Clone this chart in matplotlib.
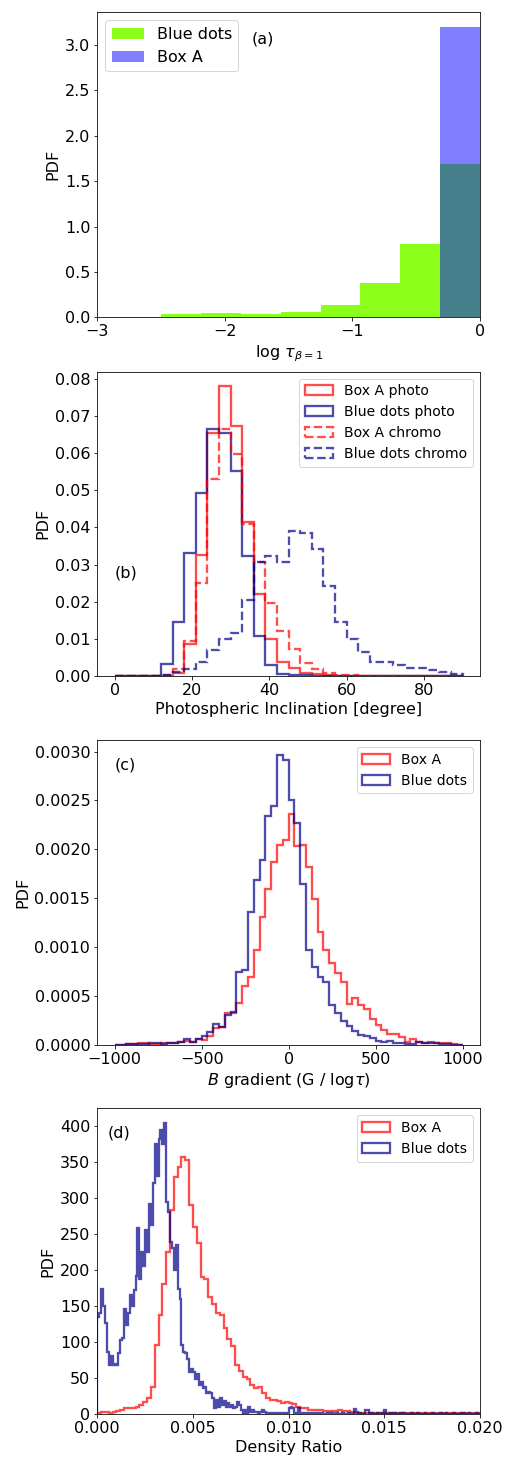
import numpy as np
import matplotlib
matplotlib.use("Agg")
import matplotlib.pyplot as plt
from matplotlib.ticker import MultipleLocator

plt.rcParams["font.size"] = 16

# ---------------- panel (a): log tau_{beta=1} ----------------
a_edges = np.linspace(-2.5, 0.0, 9)
a_bluedots = [0.037, 0.048, 0.037, 0.059, 0.14, 0.375, 0.804, 1.686]
a_boxA = [0, 0, 0, 0, 0, 0, 0, 3.2]

# ---------------- panel (b): photospheric inclination ----------------
b_edges = np.arange(0, 91, 3)
b_boxA_photo = [0, 0, 0, 0, 0, 0.0007, 0.0086, 0.0327, 0.0655, 0.078,
                0.0672, 0.0415, 0.0222, 0.0099, 0.0039, 0.0021, 0.0009, 0.0005, 0.0003, 0.0001,
                0.0001, 0.0001, 0, 0, 0, 0, 0, 0, 0, 0]
b_bluedots_photo = [0, 0, 0, 0, 0.0032, 0.0146, 0.0332, 0.0493, 0.0664, 0.0653,
                    0.0551, 0.0323, 0.0108, 0.0031, 0.0005, 0.0004, 0.0002, 0.0001, 0.0001, 0,
                    0, 0, 0, 0, 0, 0, 0, 0, 0, 0]
b_boxA_chromo = [0, 0, 0, 0, 0.0002, 0.0019, 0.0094, 0.0251, 0.0531, 0.0664,
                 0.0597, 0.041, 0.0307, 0.0197, 0.0122, 0.0072, 0.0036, 0.0018, 0.0007, 0.0004,
                 0.0002, 0.0001, 0.0001, 0, 0, 0, 0, 0, 0, 0]
b_bluedots_chromo = [0, 0, 0, 0, 0.0003, 0.001, 0.0018, 0.0039, 0.0071, 0.0099,
                     0.0115, 0.0204, 0.0306, 0.0323, 0.0307, 0.039, 0.0384, 0.0341, 0.0241, 0.0146,
                     0.0099, 0.0065, 0.0037, 0.0037, 0.0029, 0.0022, 0.0022, 0.0016, 0.001, 0.0005]

# ---------------- panel (c): B gradient (values in 1e-4) ----------------
c_edges = np.linspace(-1000, 1000, 61)
c_boxA = [0, 0.03, 0.1, 0.1, 0.17, 0.17, 0.1, 0.1, 0.17, 0.24,
          0.17, 0.34, 0.44, 0.34, 0.58, 0.51, 0.92, 1.7, 1.87, 3.24,
          3.3, 4.33, 6.07, 7.0, 9.7, 13.05, 15.95, 18.75, 20.45, 21.0,
          23.6, 20.35, 20.4, 18.2, 14.9, 11.6, 9.7, 8.35, 7.4, 6.45,
          4.23, 4.8, 4.1, 3.68, 2.65, 2.07, 1.5, 1.1, 1.1, 0.8,
          0.35, 0.6, 0.27, 0.2, 0.35, 0.24, 0.17, 0.24, 0.07, 0.03]
c_bluedots = [0, 0, 0.07, 0.1, 0.1, 0.07, 0.24, 0.17, 0.1, 0.17,
              0.24, 0.34, 0.58, 0.34, 0.6, 0.92, 1.36, 2.15, 1.87, 3.07,
              3.4, 7.43, 7.67, 13.6, 16.9, 18.9, 23.45, 24.4, 29.7, 29.1,
              25.05, 22.7, 16.5, 9.7, 8.0, 6.9, 6.4, 4.1, 3.24, 2.45,
              1.98, 1.47, 1.02, 0.92, 0.75, 0.44, 0.34, 0.44, 0.17, 0.17,
              0.1, 0.1, 0.34, 0.17, 0.17, 0.24, 0.1, 0.1, 0.03, 0.0]
c_scale = 1e-4

# ---------------- panel (d): density ratio ----------------
d_edges_boxA = np.linspace(0.0, 0.02, 101)
d_boxA = [2, 3, 3, 2, 3, 4, 6, 9, 9, 9,
          10, 12, 17, 22, 38, 96, 137, 181, 225, 283,
          329, 343, 357, 352, 290, 260, 237, 190, 188, 163,
          152, 140, 138, 120, 104, 95, 68, 60, 52, 48,
          40, 36, 38, 29, 22, 19, 19, 18, 15, 17,
          15, 14, 10, 8, 8, 6, 5, 5, 5, 4,
          4, 4, 4, 5, 4, 4, 3, 2, 2, 2,
          2, 2, 2, 2, 2, 2, 1, 1, 1, 2,
          1, 1, 1, 1, 1, 1, 1, 2, 1, 1,
          1, 1, 1, 1, 1, 1, 1, 1, 1, 1]
d_edges_bluedots = np.linspace(0.0, 0.02, 201)
d_bluedots = [135, 140, 174, 150, 126, 86, 68, 80, 68, 70,
              68, 84, 103, 105, 146, 123, 140, 165, 150, 172,
              192, 258, 188, 225, 205, 255, 225, 292, 262, 320,
              375, 330, 382, 394, 375, 404, 294, 281, 239, 230,
              200, 235, 174, 160, 96, 86, 84, 77, 59, 62,
              59, 49, 55, 40, 45, 36, 38, 29, 31, 29,
              22, 8, 20, 10, 22, 12, 18, 10, 15, 10,
              12, 8, 10, 17, 12, 5, 1, 5, 2, 10,
              3, 5, 3, 3, 2, 3, 5, 3, 2, 2,
              1, 2, 1, 2, 2, 1, 1, 2, 1, 2,
              8, 10, 8, 1, 2, 8, 1, 0, 1, 0,
              2, 0, 1, 0, 1, 1, 0, 1, 0, 0,
              2, 0, 1, 0, 0, 1, 0, 0, 1, 0,
              0, 1, 0, 0, 7, 3, 0, 1, 0, 0,
              5, 5, 0, 1, 0, 0, 1, 0, 0, 1,
              5, 0, 0, 1, 0, 1, 0, 0, 1, 0,
              1, 0, 0, 0, 1, 0, 0, 1, 0, 0,
              0, 1, 0, 0, 0, 1, 0, 0, 0, 1,
              0, 0, 1, 0, 0, 0, 1, 0, 0, 0,
              2, 2, 0, 0, 1, 0, 0, 0, 1, 0]

RED = "red"
BLUE = "darkblue"
ALPHA = 0.7
LW = 2.3

fig = plt.figure(figsize=(506 / 72, 1457 / 72), dpi=72)
L, W = 0.1923, 0.7563
ax_a = fig.add_axes([L, 0.7822, W, 0.2093])
ax_b = fig.add_axes([L, 0.5360, W, 0.2089])
ax_c = fig.add_axes([L, 0.2828, W, 0.2093])
ax_d = fig.add_axes([L, 0.0295, W, 0.2098])


def step(ax, edges, vals, color, ls="-", label=None, scale=1.0):
    edges = np.asarray(edges, dtype=float)
    w = np.asarray(vals, dtype=float) * scale
    ax.hist(edges[:-1], bins=edges, weights=w, histtype="step", color=color,
            alpha=ALPHA, lw=LW, ls=ls, label=label)


# (a)
ax_a.hist(a_edges[:-1], bins=a_edges, weights=a_bluedots, color="chartreuse",
          alpha=0.9, label="Blue dots")
ax_a.hist(a_edges[:-1], bins=a_edges, weights=a_boxA, color="blue",
          alpha=0.5, label="Box A")
ax_a.set_xlim(-3, 0)
ax_a.xaxis.set_major_locator(MultipleLocator(1))
ax_a.set_xlabel(r"log $\tau_{\beta=1}$")
ax_a.set_ylabel("PDF")
ax_a.legend(loc="upper left", fontsize=16)
ax_a.text(0.404, 0.912, "(a)", transform=ax_a.transAxes, va="center", ha="left")

# (b)
step(ax_b, b_edges, b_boxA_photo, RED, "-", "Box A photo")
step(ax_b, b_edges, b_bluedots_photo, BLUE, "-", "Blue dots photo")
step(ax_b, b_edges, b_boxA_chromo, RED, "--", "Box A chromo")
step(ax_b, b_edges, b_bluedots_chromo, BLUE, "--", "Blue dots chromo")
ax_b.set_xlabel("Photospheric Inclination [degree]")
ax_b.set_ylabel("PDF")
ax_b.yaxis.set_major_locator(MultipleLocator(0.01))
ax_b.legend(loc="upper right", fontsize=14)
ax_b.text(0.046, 0.338, "(b)", transform=ax_b.transAxes, va="center", ha="left")

# (c)
step(ax_c, c_edges, c_boxA, RED, "-", "Box A", scale=c_scale)
step(ax_c, c_edges, c_bluedots, BLUE, "-", "Blue dots", scale=c_scale)
ax_c.set_xlabel(r"$B$ gradient (G / log$\tau$)")
ax_c.set_ylabel("PDF")
ax_c.yaxis.set_major_locator(MultipleLocator(0.0005))
ax_c.legend(loc="upper right", fontsize=14)
ax_c.text(0.046, 0.918, "(c)", transform=ax_c.transAxes, va="center", ha="left")

# (d)
step(ax_d, d_edges_boxA, d_boxA, RED, "-", "Box A")
step(ax_d, d_edges_bluedots, d_bluedots, BLUE, "-", "Blue dots")
ax_d.set_xlim(0, 0.02)
ax_d.set_xlabel("Density Ratio")
ax_d.set_ylabel("PDF")
ax_d.yaxis.set_major_locator(MultipleLocator(50))
ax_d.xaxis.set_major_locator(MultipleLocator(0.005))
ax_d.legend(loc="upper right", fontsize=14)
ax_d.text(0.026, 0.918, "(d)", transform=ax_d.transAxes, va="center", ha="left")

fig.savefig("out.png", dpi=72)
